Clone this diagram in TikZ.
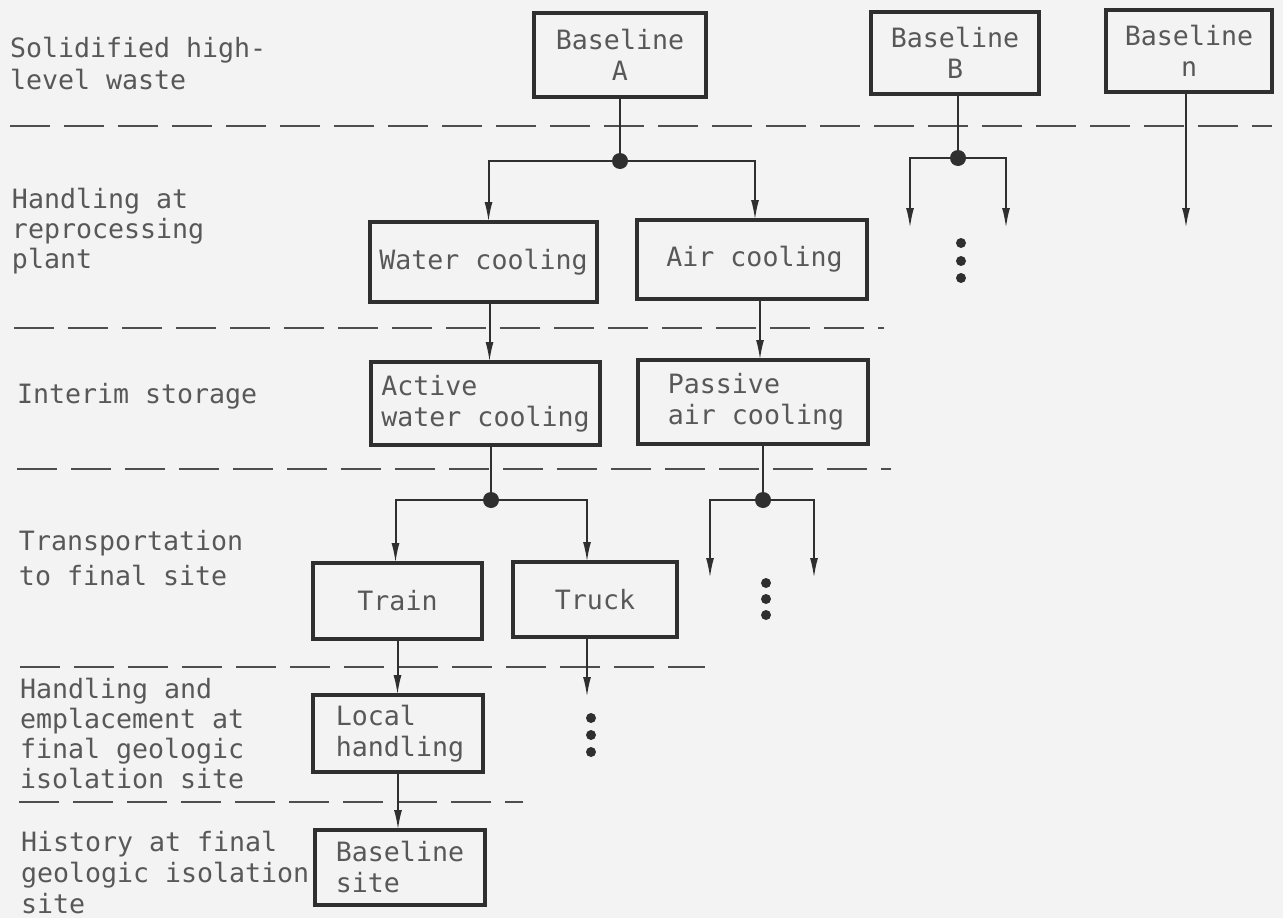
\documentclass[tikz,border=0pt]{standalone}
\usepackage{fontspec}
\newfontfamily\typefont{DejaVu Sans Mono}
\usetikzlibrary{arrows.meta,calc}
\definecolor{ink}{HTML}{2F2F2F}
\definecolor{txt}{HTML}{585858}
\definecolor{paper}{HTML}{F3F3F3}
\newcommand{\tsize}[1]{\typefont\fontsize{26.6}{#1}\selectfont}

\begin{document}
\begin{tikzpicture}[x=1pt,y=-1pt,
  every node/.style={font=\tsize{31}, text=txt, inner sep=0pt, outer sep=0pt},
  box/.style={draw=ink, line width=3.2pt, align=center},
  lbox/.style={box, align=left},
  % labels are anchored at the baseline of their last line
  lab/.style={anchor=base west, align=left},
  flow/.style={draw=ink, line width=2pt, -{Latex[length=20pt,width=8pt]}},
  wire/.style={draw=ink, line width=2pt},
  sep/.style={draw=ink!85, line width=2.4pt, dash pattern=on 40pt off 14pt},
  more/.style={fill=ink}
]
% page
\fill[paper] (0,0) rectangle (1283,918);
\useasboundingbox (0,0) rectangle (1283,918);

% stage separators
\draw[sep] (10,126) -- (1272,126);
\draw[sep] (14,328) -- (884,328);
\draw[sep] (17,469) -- (891,469);
\draw[sep] (20,667) -- (705,667);
\draw[sep] (19,802) -- (523,802);

% stage labels
\node[lab, font=\tsize{32}] (s1) at (10,89) {Solidified high-\\level waste};
\node[lab, font=\tsize{30}] (s2) at (12,268) {Handling at\\reprocessing\\plant};
\node[lab] (s3) at (17,403) {Interim storage};
\node[lab, font=\tsize{35}] (s4) at (19,585) {Transportation\\to final site};
\node[lab, font=\tsize{30}] (s5) at (20,788) {Handling and\\emplacement at\\final geologic\\isolation site};
\node[lab, font=\tsize{31}] (s6) at (21,913) {History at final\\geologic isolation\\site};

% alternatives
\node[box, minimum width=172pt, minimum height=84pt] (bA) at (620,55) {Baseline\\A};
\node[box, minimum width=168pt, minimum height=82pt] (bB) at (955,53) {Baseline\\B};
\node[box, minimum width=166pt, minimum height=82pt] (bN) at (1189,51) {Baseline\\n};
\node[box, minimum width=227pt, minimum height=80pt] (wc) at (483.5,262) {Water cooling};
\node[box, minimum width=230pt, minimum height=79pt] (ac) at (752,259.5) {\hspace*{5pt}Air cooling};
\node[lbox, minimum width=229pt, minimum height=83pt] (aw) at (485.5,403.5) {Active\\water cooling};
\node[lbox, minimum width=230pt, minimum height=84pt] (pa) at (753,402) {\hspace*{6pt}Passive\\\hspace*{6pt}air cooling};
\node[box, minimum width=169pt, minimum height=76pt] (tr) at (397.5,601) {Train};
\node[box, minimum width=164pt, minimum height=75pt] (tk) at (595,599.5) {Truck};
\node[lbox, minimum width=170pt, minimum height=77pt] (lh) at (398,733.5) {\hspace*{4pt}Local\\\hspace*{4pt}handling};
\node[lbox, minimum width=170pt, minimum height=75pt] (bs) at (400,867.5) {Baseline\\site};

% branch points and open ends
\coordinate (jA) at (620,161);
\coordinate (jB) at (958,158);
\coordinate (jW) at (491,500);
\coordinate (jP) at (763,500);
\coordinate (bL) at (910,228);
\coordinate (bR) at (1006,228);
\coordinate (nE) at (1186,228);
\coordinate (pL) at (710,578);
\coordinate (pR) at (814,578);
\coordinate (kE) at (587,697);

% baseline A
\draw[wire] (bA.south) -- (jA);
\draw[flow] (jA) -| ([xshift=5pt]wc.north);
\draw[flow] (jA) -| ([xshift=3pt]ac.north);
\draw[flow] ([xshift=6pt]wc.south) -- ([xshift=6pt]wc.south |- aw.north);
\draw[flow] ([xshift=8pt]ac.south) -- ([xshift=8pt]ac.south |- pa.north);
\draw[wire] (jW |- aw.south) -- (jW);
\draw[flow] (jW) -| ([xshift=-2pt]tr.north);
\draw[flow] (jW) -| ([xshift=-8pt]tk.north);
\draw[wire] (jP |- pa.south) -- (jP);
\draw[flow] (jP) -| (pL);
\draw[flow] (jP) -| (pR);
\draw[flow] (tr.south) -- (tr.south |- lh.north);
\draw[flow] (kE |- tk.south) -- (kE);
\draw[flow] (lh.south) -- (lh.south |- bs.north);

% baseline B and n
\draw[wire] (jB |- bB.south) -- (jB);
\draw[flow] (jB) -| (bL);
\draw[flow] (jB) -| (bR);
\draw[flow] (nE |- bN.south) -- (nE);

% junction dots
\foreach \j in {jA,jB,jW,jP} \fill[ink] (\j) circle (8pt);

% continuation marks
\foreach \x/\y in {961/243, 961/261, 961/278, 766/583, 766/599, 766/615, 591/718, 591/735, 591/752}
  \fill[more] (\x,\y) circle (5pt);
\end{tikzpicture}
\end{document}
